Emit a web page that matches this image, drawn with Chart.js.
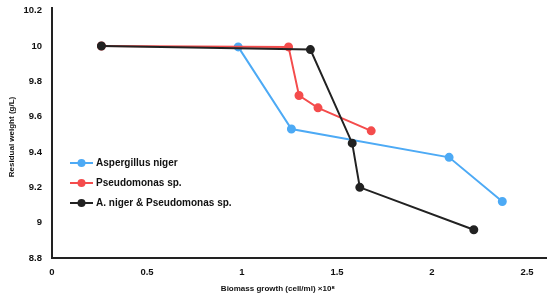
<!DOCTYPE html>
<html>
<head>
<meta charset="utf-8">
<script src="https://cdn.jsdelivr.net/npm/chart.js@4/dist/chart.umd.min.js"></script>
<style>
  html, body { margin: 0; padding: 0; background: #fff; }
  #wrap { position: relative; width: 552px; height: 298px; }
</style>
</head>
<body>
<div id="wrap"><canvas id="chart"></canvas></div>
<script>
// values
const seriesNames = ["Aspergillus niger", "Pseudomonas sp.", "A. niger & Pseudomonas sp."];
const aspergillusX = [0.98, 1.26, 2.09, 2.37];
const aspergillusY = [9.995, 9.53, 9.37, 9.12];
const pseudomonasX = [0.26, 1.245, 1.30, 1.40, 1.68];
const pseudomonasY = [10.0, 9.995, 9.72, 9.65, 9.52];
const mixedX = [0.26, 1.36, 1.58, 1.62, 2.22];
const mixedY = [10.0, 9.98, 9.45, 9.2, 8.96];
const xTicks = [0, 0.5, 1, 1.5, 2, 2.5];
const yTicks = [8.8, 9, 9.2, 9.4, 9.6, 9.8, 10, 10.2];
const xTitle = "Biomass growth (cell/ml) ×10⁸";
const yTitle = "Residual weight (g/L)";

const colors = ["#4daaf5", "#f44c4c", "#222222"];
const fontFamily = "Arial, 'Liberation Sans', sans-serif";

const toPoints = (xs, ys) => xs.map((x, i) => ({ x: x, y: ys[i] }));

// legend inside the plot area + axis titles, placed like the original
const annotations = {
  id: "annotations",
  afterDraw(chart) {
    const ctx = chart.ctx;
    const x0 = chart.chartArea.left + 18;
    const y0 = 163;
    ctx.save();
    ctx.font = "bold 10px " + fontFamily;
    ctx.textBaseline = "middle";
    seriesNames.forEach((name, i) => {
      const y = y0 + i * 20;
      ctx.strokeStyle = colors[i];
      ctx.fillStyle = colors[i];
      ctx.lineWidth = 2;
      ctx.beginPath();
      ctx.moveTo(x0, y);
      ctx.lineTo(x0 + 23, y);
      ctx.stroke();
      ctx.beginPath();
      ctx.arc(x0 + 11.5, y, 4, 0, Math.PI * 2);
      ctx.fill();
      ctx.fillStyle = "#111";
      ctx.fillText(name, x0 + 26, y + 0.5);
    });

    ctx.font = "bold 8px " + fontFamily;
    ctx.textAlign = "center";
    ctx.fillText(xTitle, 278, 289);
    ctx.translate(12, 137);
    ctx.rotate(-Math.PI / 2);
    ctx.fillText(yTitle, 0, 0);
    ctx.restore();
  }
};

const tickFont = { family: fontFamily, size: 9.5, weight: "bold" };
const plainNumber = (v) => String(Math.round(v * 10) / 10);

new Chart(document.getElementById("chart"), {
  type: "line",
  data: {
    datasets: [
      { label: seriesNames[0], data: toPoints(aspergillusX, aspergillusY), order: 2 },
      { label: seriesNames[1], data: toPoints(pseudomonasX, pseudomonasY), order: 1 },
      { label: seriesNames[2], data: toPoints(mixedX, mixedY), order: 0 },
    ].map((d, i) => Object.assign(d, {
      borderColor: colors[i],
      backgroundColor: colors[i],
      pointBackgroundColor: colors[i],
      pointBorderColor: colors[i],
      borderWidth: 2,
      pointRadius: 3.5,
      tension: 0,
      fill: false,
    })),
  },
  options: {
    responsive: true,
    maintainAspectRatio: false,
    animation: false,
    layout: { padding: { top: 0, right: 0, left: 0, bottom: 0 } },
    plugins: {
      legend: { display: false },
      tooltip: { enabled: false },
    },
    scales: {
      x: {
        type: "linear",
        min: 0,
        max: 2.6,
        afterBuildTicks: (s) => { s.ticks = xTicks.map((v) => ({ value: v })); },
        afterFit: (s) => { s.height = 40; },
        grid: { display: false },
        border: { display: true, color: "#222", width: 2 },
        ticks: { color: "#111", font: tickFont, padding: 1, callback: plainNumber },
      },
      y: {
        type: "linear",
        min: 8.8,
        max: 10.217,
        afterBuildTicks: (s) => { s.ticks = yTicks.map((v) => ({ value: v })); },
        afterFit: (s) => { s.width = 52; },
        grid: { display: false },
        border: { display: true, color: "#222", width: 2 },
        ticks: { color: "#111", font: tickFont, padding: 2, callback: plainNumber },
      },
    },
  },
  plugins: [annotations],
});
</script>
</body>
</html>
